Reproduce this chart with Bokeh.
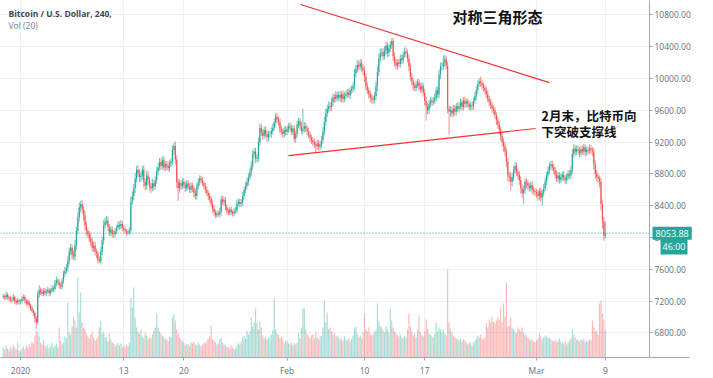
import pandas as pd
from bokeh.plotting import figure
from bokeh.models import Range1d, FixedTicker, NumeralTickFormatter, Span, Label, ColumnDataSource, BoxAnnotation
from bokeh.embed import file_html
from bokeh.resources import INLINE

# ---------------- data (4h candles, BTC/USD) ----------------
start_time = "2019-12-30 00:00"
first_open = 7250
closes = [
    7260, 7240, 7280, 7250, 7230, 7210,   # Dec 30
    7220, 7250, 7200, 7180, 7210, 7190,   # Dec 31
    7200, 7230, 7250, 7210, 7170, 7190,   # Jan 1
    7150, 7110, 7080, 7050, 6980, 6930,   # Jan 2
    7280, 7340, 7310, 7290, 7330, 7300,   # Jan 3
    7320, 7340, 7300, 7330, 7360, 7350,   # Jan 4
    7420, 7460, 7440, 7400, 7380, 7450,   # Jan 5
    7540, 7580, 7620, 7700, 7820, 7870,   # Jan 6
    7780, 7760, 7900, 8080, 8250, 8380,   # Jan 7
    8420, 8350, 8280, 8150, 8080, 8040,   # Jan 8
    7990, 7950, 7870, 7900, 7820, 7800,   # Jan 9
    7720, 7700, 7820, 7960, 8150, 8200,   # Jan 10
    8210, 8130, 8060, 8100, 8050, 8040,   # Jan 11
    8080, 8120, 8160, 8140, 8170, 8120,   # Jan 12
    8100, 8080, 8060, 8070, 8090, 8450,   # Jan 13
    8520, 8620, 8740, 8850, 8800, 8760,   # Jan 14
    8780, 8850, 8700, 8650, 8780, 8720,   # Jan 15
    8640, 8620, 8680, 8640, 8720, 8830,   # Jan 16
    8880, 8950, 8900, 8970, 8880, 8920,   # Jan 17
    8900, 8870, 8930, 8960, 9100, 9150,   # Jan 18
    8980, 8700, 8620, 8680, 8650, 8700,   # Jan 19
    8660, 8620, 8680, 8640, 8600, 8650,   # Jan 20
    8620, 8560, 8520, 8640, 8700, 8740,   # Jan 21
    8720, 8680, 8650, 8600, 8560, 8520,   # Jan 22
    8480, 8420, 8360, 8320, 8280, 8300,   # Jan 23
    8290, 8320, 8480, 8450, 8470, 8380,   # Jan 24
    8330, 8310, 8350, 8320, 8300, 8330,   # Jan 25
    8340, 8430, 8450, 8420, 8440, 8520,   # Jan 26
    8600, 8650, 8700, 8760, 8820, 8900,   # Jan 27
    9050, 9080, 8990, 9000, 9200, 9380,   # Jan 28
    9320, 9280, 9350, 9300, 9260, 9300,   # Jan 29
    9300, 9340, 9380, 9450, 9520, 9480,   # Jan 30
    9450, 9360, 9330, 9300, 9350, 9330,   # Jan 31
    9360, 9400, 9380, 9330, 9370, 9240,   # Feb 1
    9300, 9420, 9460, 9400, 9340, 9360,   # Feb 2
    9400, 9370, 9330, 9290, 9250, 9220,   # Feb 3
    9200, 9170, 9150, 9180, 9140, 9170,   # Feb 4
    9230, 9330, 9450, 9560, 9620, 9650,   # Feb 5
    9640, 9700, 9760, 9740, 9790, 9760,   # Feb 6
    9790, 9750, 9800, 9740, 9780, 9800,   # Feb 7
    9820, 9790, 9850, 9870, 9900, 10060,  # Feb 8
    10120, 10170, 10150, 10190, 10130, 10100,  # Feb 9
    10020, 9900, 9850, 9800, 9760, 9740,  # Feb 10
    9730, 9780, 9900, 10080, 10250, 10320,  # Feb 11
    10330, 10280, 10350, 10410, 10320, 10380,  # Feb 12
    10420, 10470, 10280, 10200, 10160, 10200,  # Feb 13
    10180, 10250, 10230, 10300, 10340, 10320,  # Feb 14
    10250, 10150, 10020, 9960, 9900, 9880,  # Feb 15
    9920, 9950, 9900, 9860, 9900, 9820,   # Feb 16
    9720, 9650, 9600, 9680, 9720, 9700,   # Feb 17
    9720, 9760, 9850, 9800, 10050, 10150,  # Feb 18
    10150, 10200, 10240, 10160, 9620, 9580,  # Feb 19
    9600, 9560, 9620, 9580, 9650, 9620,   # Feb 20
    9650, 9700, 9640, 9720, 9680, 9710,   # Feb 21
    9680, 9640, 9660, 9650, 9720, 9780,   # Feb 22
    9850, 9930, 9960, 9940, 9910, 9880,   # Feb 23
    9850, 9800, 9740, 9700, 9660, 9620,   # Feb 24
    9600, 9540, 9470, 9420, 9350, 9280,   # Feb 25
    9200, 9150, 9080, 8950, 8780, 8760,   # Feb 26
    8700, 8760, 8850, 8900, 8820, 8790,   # Feb 27
    8720, 8620, 8560, 8600, 8700, 8680,   # Feb 28
    8650, 8620, 8660, 8600, 8580, 8570,   # Feb 29
    8550, 8520, 8580, 8500, 8560, 8620,   # Mar 1
    8700, 8780, 8840, 8900, 8920, 8880,   # Mar 2
    8850, 8790, 8740, 8780, 8720, 8760,   # Mar 3
    8790, 8740, 8720, 8760, 8800, 8780,   # Mar 4
    8850, 9050, 9120, 9080, 9110, 9090,   # Mar 5
    9060, 9110, 9080, 9130, 9070, 9100,   # Mar 6
    9090, 9120, 9100, 9080, 8920, 8800,   # Mar 7
    8760, 8740, 8700, 8420, 8200, 8020,   # Mar 8
    8053.88,                              # Mar 9
]
wick_up = [
    30, 20, 40, 25, 20, 30,  35, 40, 20, 25, 30, 20,  20, 30, 35, 25, 20, 30,
    25, 20, 30, 25, 20, 30,  40, 60, 30, 40, 30, 35,  30, 40, 25, 30, 45, 30,
    45, 50, 30, 35, 30, 40,  40, 50, 45, 60, 55, 50,  40, 60, 70, 55, 65, 60,
    40, 50, 45, 60, 50, 40,  40, 60, 50, 45, 50, 40,  30, 40, 60, 50, 70, 50,
    60, 50, 40, 45, 40, 35,  40, 35, 45, 40, 50, 40,  30, 35, 25, 30, 40, 60,
    60, 50, 70, 50, 60, 60,  50, 50, 60, 40, 60, 50,  40, 50, 60, 40, 50, 60,
    60, 50, 40, 50, 45, 40,  40, 50, 45, 40, 60, 40,  60, 50, 40, 50, 40, 45,
    40, 45, 40, 35, 40, 45,  40, 35, 50, 40, 45, 40,  35, 40, 30, 35, 40, 30,
    40, 35, 45, 40, 30, 35,  40, 50, 40, 45, 40, 35,  35, 30, 40, 35, 30, 40,
    40, 45, 35, 40, 45, 50,  40, 45, 50, 45, 50, 60,  50, 45, 50, 45, 60, 50,
    50, 45, 40, 50, 45, 40,  40, 45, 50, 45, 50, 40,  40, 50, 45, 40, 45, 50,
    45, 40, 50, 45, 40, 45,  40, 50, 45, 40, 50, 260, 50, 45, 40, 50, 45, 40,
    40, 45, 40, 50, 45, 40,  50, 60, 70, 60, 50, 60,  50, 60, 50, 45, 50, 45,
    50, 45, 40, 50, 45, 50,  45, 50, 40, 45, 50, 60,  50, 60, 50, 55, 50, 45,
    50, 45, 50, 40, 45, 50,  45, 50, 60, 70, 60, 55,  50, 45, 60, 50, 45, 50,
    50, 35, 40, 50, 45, 40,  45, 50, 45, 40, 50, 45,  40, 50, 45, 50, 40, 45,
    50, 45, 40, 45, 50, 40,  50, 45, 40, 50, 45, 40,  45, 50, 45, 50, 60, 50,
    50, 90, 50, 45, 50, 40,  50, 45, 50, 45, 40, 50,  45, 50, 40, 45, 50, 40,
    40, 45, 40, 45, 40, 50,  50, 45, 40, 60, 45, 40,  40, 45, 50, 40, 45, 40,
    40, 45, 40, 45, 40, 45,  40, 50, 45, 40, 50, 45,  60, 50, 45, 50, 40, 45,
    45, 50, 45, 50, 40, 45,  45, 40, 45, 40, 45, 40,  40, 45, 40, 45, 40, 50,
    50, 45, 50, 45, 40, 45,  45, 40, 50, 45, 40, 45,  40, 45, 40, 45, 50, 45,
    50, 60, 50, 45, 50, 40,  45, 40, 45, 50, 40, 45,  40, 50, 45, 40, 45, 50,
    50, 45, 40, 50, 45, 60,  150,
]
wick_dn = [
    25, 30, 20, 35, 30, 25,  30, 25, 35, 30, 20, 40,  25, 20, 30, 40, 35, 25,
    30, 35, 25, 40, 50, 80,  30, 40, 35, 30, 25, 30,  35, 25, 40, 30, 25, 35,
    30, 35, 40, 45, 30, 35,  30, 40, 35, 50, 40, 45,  60, 40, 50, 60, 45, 50,
    60, 50, 70, 60, 55, 45,  50, 60, 45, 55, 50, 60,  50, 20, 40, 45, 50, 40,
    40, 50, 45, 40, 50, 45,  35, 40, 30, 45, 35, 40,  35, 30, 40, 30, 35, 40,
    40, 50, 60, 50, 40, 70,  60, 50, 70, 60, 50, 60,  50, 60, 40, 50, 40, 50,
    50, 40, 50, 45, 40, 50,  50, 40, 45, 40, 50, 60,  70, 80, 160, 60, 50, 40,
    40, 50, 35, 40, 45, 40,  50, 60, 40, 45, 40, 50,  40, 35, 40, 45, 40, 50,
    45, 40, 50, 45, 40, 35,  30, 40, 45, 40, 50, 40,  40, 35, 30, 40, 35, 30,
    30, 40, 35, 40, 35, 40,  40, 45, 40, 50, 40, 45,  50, 45, 60, 50, 45, 50,
    45, 50, 45, 40, 60, 50,  40, 50, 45, 40, 50, 45,  45, 50, 40, 45, 40, 50,
    40, 45, 50, 40, 45, 40,  50, 40, 45, 50, 40, 45,  40, 45, 50, 45, 50, 45,
    50, 45, 80, 45, 50, 45,  40, 50, 45, 50, 45, 50,  50, 45, 50, 45, 40, 50,
    40, 45, 50, 45, 40, 45,  45, 40, 50, 40, 45, 50,  50, 45, 50, 45, 50, 55,
    60, 50, 45, 50, 60, 55,  50, 45, 50, 60, 50, 45,  45, 50, 45, 50, 55, 45,
    45, 50, 60, 50, 45, 50,  40, 45, 50, 45, 40, 50,  50, 60, 50, 45, 50, 40,
    45, 40, 50, 45, 40, 50,  60, 180, 50, 45, 50, 45, 45, 40, 50, 45, 50, 55,
    50, 45, 50, 45, 60, 290,  60, 50, 45, 50, 45, 40,  50, 45, 40, 45, 50, 45,
    45, 40, 45, 50, 45, 40,  50, 45, 40, 45, 50, 45,  50, 45, 40, 50, 45, 50,
    50, 45, 60, 50, 55, 60,  60, 70, 60, 70, 80, 60,  110, 60, 50, 45, 50, 60,
    60, 70, 60, 140, 50, 60,  50, 45, 40, 50, 45, 50,  50, 60, 45, 50, 100, 45,
    40, 45, 50, 45, 50, 45,  50, 45, 40, 50, 45, 40,  45, 40, 50, 45, 40, 45,
    45, 50, 45, 50, 45, 50,  50, 45, 40, 45, 50, 45,  45, 40, 50, 60, 70, 60,
    60, 50, 70, 80, 90, 60,  40,
]
volumes = [
    200, 160, 240, 180, 140, 220,  180, 260, 200, 160, 300, 140,  120, 180, 220, 160, 240, 200,
    260, 200, 320, 280, 440, 520,  500, 420, 300, 260, 340, 240,  200, 260, 180, 220, 300, 200,
    240, 280, 200, 600, 320, 260,  300, 420, 380, 1100, 500, 460, 620, 800, 740, 600, 1600, 900,
    1300, 700, 600, 560, 480, 420, 380, 460, 520, 400, 340, 360,  420, 600, 740, 480, 520, 400,
    400, 320, 480, 360, 300, 280,  220, 260, 300, 240, 280, 200,  240, 200, 260, 220, 300, 1200,
    1000, 1400, 800, 600, 520, 480, 560, 420, 380, 500, 440, 360,  400, 380, 460, 540, 600, 880,
    600, 520, 480, 440, 400, 380,  360, 320, 420, 400, 800, 880,  740, 560, 480, 400, 360, 320,
    300, 240, 280, 260, 220, 300,  280, 320, 260, 240, 300, 260,  220, 260, 300, 280, 340, 380,
    420, 640, 380, 340, 300, 260,  280, 360, 400, 300, 260, 240,  200, 220, 180, 240, 200, 160,
    180, 240, 300, 260, 320, 400,  440, 380, 540, 460, 520, 800,  620, 700, 980, 700, 560, 720,
    600, 440, 380, 420, 360, 400,  380, 460, 540, 1180, 560, 480, 460, 380, 420, 360, 300, 340,
    320, 280, 260, 300, 240, 280,  260, 300, 480, 380, 600, 980,  980, 560, 480, 420, 380, 440,
    460, 380, 520, 400, 360, 420,  440, 600, 1140, 700, 900, 560, 600, 520, 460, 500, 420, 440,
    400, 360, 380, 340, 420, 360,  340, 380, 320, 360, 440, 600,  620, 480, 400, 440, 380, 500,
    880, 560, 520, 600, 480, 440,  460, 520, 560, 1080, 720, 620, 600, 540, 500, 620, 560, 480,
    980, 740, 600, 520, 480, 440,  420, 460, 400, 380, 440, 400,  560, 880, 620, 520, 440, 480,
    400, 560, 840, 500, 440, 420,  520, 760, 580, 480, 460, 420,  400, 480, 700, 520, 600, 560,
    500, 560, 480, 440, 1760, 700, 560, 500, 440, 400, 380, 360,  340, 380, 320, 360, 340, 300,
    260, 300, 280, 240, 300, 340,  380, 440, 400, 460, 380, 360,  400, 680, 600, 760, 700, 820,
    720, 680, 740, 820, 760, 1000, 700, 1080, 820, 1500, 620, 640, 800, 600, 560, 520, 480, 600,
    560, 520, 600, 500, 460, 440,  400, 380, 340, 360, 320, 300,  340, 380, 480, 420, 360, 400,
    440, 420, 380, 400, 360, 340,  320, 360, 300, 340, 380, 320,  300, 280, 320, 260, 300, 340,
    380, 560, 460, 400, 360, 340,  320, 360, 340, 380, 300, 340,  320, 360, 340, 740, 600, 520,
    540, 460, 1080, 1140, 880, 760, 540,
]
last_price = 8053.88
countdown = "46:00"

# triangle trend lines (time, price)
upper_times = ["2020-02-02 13:30", "2020-03-02 12:00"]
upper_prices = [10930, 9948]
lower_times = ["2020-02-01 04:00", "2020-02-29 21:00"]
lower_prices = [9030, 9370]

price_ticks = [6800, 7200, 7600, 8000, 8400, 8800, 9200, 9600, 10000, 10400, 10800]
date_ticks = ["2020-01-01", "2020-01-13", "2020-01-20", "2020-02-01",
              "2020-02-10", "2020-02-17", "2020-03-01", "2020-03-09"]
date_labels = ["2020", "13", "20", "Feb", "10", "17", "Mar", "9"]

# ---------------- derived ----------------
def ms(ts):
    return pd.Timestamp(ts).value // 10**6

times = pd.date_range(start_time, periods=len(closes), freq="4h")
t_ms = [t.value // 10**6 for t in times]
opens = [first_open] + closes[:-1]
tops = [max(o, c) for o, c in zip(opens, closes)]
bots = [min(o, c) for o, c in zip(opens, closes)]
highs = [t + w for t, w in zip(tops, wick_up)]
lows = [b - w for b, w in zip(bots, wick_dn)]
UP, DN = "#26a69a", "#ef5350"
colors = [UP if c >= o else DN for o, c in zip(opens, closes)]

src = ColumnDataSource(dict(t=t_ms, top=tops, bot=bots, hi=highs, lo=lows,
                            color=colors, vol=volumes))

FOUR_H = 4 * 3600 * 1000
DAY = 24 * 3600 * 1000
jan1 = ms("2020-01-01")
x_start = jan1 - 2.3256 * DAY      # left edge of the canvas
price_scale_x = jan1 + 73.14 * DAY  # where the price scale line sits
time_axis_end = jan1 + 77.79 * DAY  # where the time-scale line stops
x_end = jan1 + 80.58 * DAY          # right edge of the canvas

p = figure(width=713, height=378, output_backend="svg", toolbar_location=None,
           x_range=Range1d(x_start, x_end), y_range=Range1d(6490, 10980),
           y_axis_location="right", title_location=None,
           min_border_left=0, min_border_top=0, min_border_right=0, min_border_bottom=21,
           outline_line_color=None, background_fill_color="white", border_fill_color="white")

p.extra_y_ranges = {"vol": Range1d(0, 7140)}

# grid
GRID = "#edf0f4"
p.xgrid.ticker = FixedTicker(ticks=[ms(d) for d in date_ticks])
p.ygrid.ticker = FixedTicker(ticks=price_ticks)
p.xgrid.grid_line_color = GRID
p.ygrid.grid_line_color = GRID

# axes
AX = "#a3a6af"
for ax in (p.xaxis[0], p.yaxis[0]):
    ax.axis_line_color = AX
    ax.major_tick_line_color = AX
    ax.minor_tick_line_color = None
    ax.major_tick_in = 0
    ax.major_tick_out = 3
    ax.major_label_text_font = "Open Sans"
    ax.major_label_text_font_size = "8.5px"
    ax.major_label_text_color = "#6a6d78"
p.yaxis[0].ticker = FixedTicker(ticks=price_ticks)
p.yaxis[0].formatter = NumeralTickFormatter(format="0.00")
p.yaxis[0].major_label_standoff = 2
p.yaxis[0].fixed_location = price_scale_x
p.xaxis[0].ticker = FixedTicker(ticks=[ms(d) for d in date_ticks])
p.xaxis[0].major_label_overrides = {ms(d): lab for d, lab in zip(date_ticks, date_labels)}
p.xaxis[0].major_label_standoff = 4
p.xaxis[0].bounds = (x_start, time_axis_end)

# last price line (under everything) and blank price-scale area
p.add_layout(Span(location=last_price, dimension="width", line_color=UP,
                  line_dash="1 2", line_width=1, level="underlay"))
p.add_layout(BoxAnnotation(left=price_scale_x, fill_color="white", fill_alpha=1,
                           line_color=None, level="glyph"))

# volume
p.vbar(x="t", width=0.8 * FOUR_H, top="vol", bottom=0, fill_color="color", fill_alpha=0.4,
       line_color=None, y_range_name="vol", source=src)

# candles
p.segment(x0="t", y0="lo", x1="t", y1="hi", line_color="color", line_width=0.9,
          line_alpha=0.75, source=src)
p.vbar(x="t", width=0.8 * FOUR_H, top="top", bottom="bot", fill_color="color",
       line_color=None, source=src)

# triangle lines
RED = "#f23030"
p.line(x=[ms(t) for t in upper_times], y=upper_prices, line_color=RED, line_width=1.2)
p.line(x=[ms(t) for t in lower_times], y=lower_prices, line_color=RED, line_width=1.2)

# texts
p.add_layout(Label(x=8, y=344, x_units="screen", y_units="screen",
                   text="Bitcoin / U.S. Dollar, 240,", text_font="Open Sans",
                   text_font_size="8.5px", text_font_style="bold", text_color="#434651",
                   text_baseline="middle"))
p.add_layout(Label(x=8, y=332.5, x_units="screen", y_units="screen",
                   text="Vol (20)", text_font="Open Sans",
                   text_font_size="8.5px", text_color="#787b86", text_baseline="middle"))
CJK = "Noto Sans CJK SC"
p.add_layout(Label(x=452, y=341, x_units="screen", y_units="screen",
                   text="对称三角形态", text_font=CJK, text_font_size="15px",
                   text_font_style="bold", text_color="#111111", text_baseline="middle"))
p.add_layout(Label(x=541, y=242, x_units="screen", y_units="screen",
                   text="2月末，比特币向", text_font=CJK, text_font_size="12.5px",
                   text_font_style="bold", text_color="#111111", text_baseline="middle"))
p.add_layout(Label(x=541, y=226, x_units="screen", y_units="screen",
                   text="下突破支撑线", text_font=CJK, text_font_size="12.5px",
                   text_font_style="bold", text_color="#111111", text_baseline="middle"))

# price scale markers
p.add_layout(Label(x=652, y=last_price, x_units="screen", y_units="data",
                   text=f"{last_price:.2f}", text_font="Open Sans", text_font_size="9px",
                   text_color="white", text_baseline="middle",
                   background_fill_color=UP, padding=3))
p.add_layout(Label(x=687, y=111.5, x_units="screen", y_units="screen",
                   text=countdown, text_font="Open Sans", text_font_size="9px",
                   text_color="white", text_baseline="middle", text_align="right",
                   background_fill_color=UP, padding=2))

open("out.html", "w").write(file_html(p, INLINE))
